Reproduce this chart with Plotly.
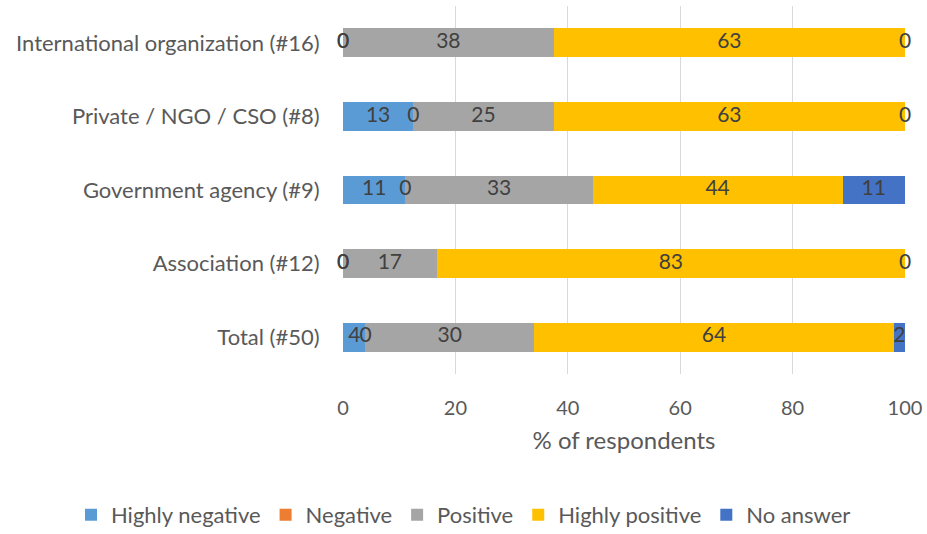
import numpy as np
import plotly.graph_objects as go

# Respondent groups, listed bottom to top
categories = ["Total (#50)", "Association (#12)", "Government agency (#9)",
              "Private / NGO / CSO (#8)", "International organization (#16)"]

series_names = ["Highly negative", "Negative", "Positive", "Highly positive", "No answer"]
highly_negative = [4, 0, 11.11, 12.5, 0]
negative = [0, 0, 0, 0, 0]
positive = [30, 16.67, 33.33, 25, 37.5]
highly_positive = [64, 83.33, 44.44, 62.5, 62.5]
no_answer = [2, 0, 11.11, 0, 0]

colors = ["#5B9BD5", "#ED7D31", "#A5A5A5", "#FFC000", "#4472C4"]
x_ticks = [0, 20, 40, 60, 80, 100]

FONT = "Lato"
series = [highly_negative, negative, positive, highly_positive, no_answer]

fig = go.Figure()
for name, vals, col in zip(series_names, series, colors):
    fig.add_trace(go.Bar(
        y=categories, x=vals, name=name, orientation="h",
        marker=dict(color=col, line=dict(width=0)),
        hoverinfo="x+name",
    ))

# Value labels centred on each segment (zero-width segments included)
starts = np.zeros(len(categories))
for vals in series:
    v = np.array(vals, dtype=float)
    fig.add_trace(go.Scatter(
        y=categories, x=starts + v / 2, mode="text",
        customdata=v, texttemplate="%{customdata:.0f}",
        textfont=dict(family=FONT, size=21, color="#404040"),
        showlegend=False, hoverinfo="skip", cliponaxis=False,
    ))
    starts = starts + v

fig.update_layout(
    barmode="stack",
    bargap=0.61,
    width=927, height=534,
    margin=dict(l=343, r=22, t=6, b=160, autoexpand=False),
    plot_bgcolor="white", paper_bgcolor="white",
    font=dict(family=FONT, size=20, color="#595959"),
    legend=dict(orientation="h", x=-0.484, xanchor="left", y=-0.383, yanchor="middle",
                font=dict(family=FONT, size=22, color="#595959"),
                traceorder="normal", itemwidth=30),
    xaxis=dict(
        range=[0, 100], tickvals=x_ticks, showgrid=True, gridcolor="#D9D9D9",
        gridwidth=1, zeroline=False, showline=False,
        ticks="outside", ticklen=16, tickcolor="rgba(0,0,0,0)",
        tickfont=dict(family=FONT, size=20, color="#595959"),
        title=dict(text="% of respondents", standoff=14,
                   font=dict(family=FONT, size=24, color="#595959")),
        fixedrange=True,
    ),
    yaxis=dict(
        categoryorder="array", categoryarray=categories,
        showgrid=False, zeroline=False, showline=False,
        ticks="outside", ticklen=18, tickcolor="rgba(0,0,0,0)",
        tickfont=dict(family=FONT, size=22, color="#595959"),
        fixedrange=True,
    ),
)

fig.write_html("out.html")
